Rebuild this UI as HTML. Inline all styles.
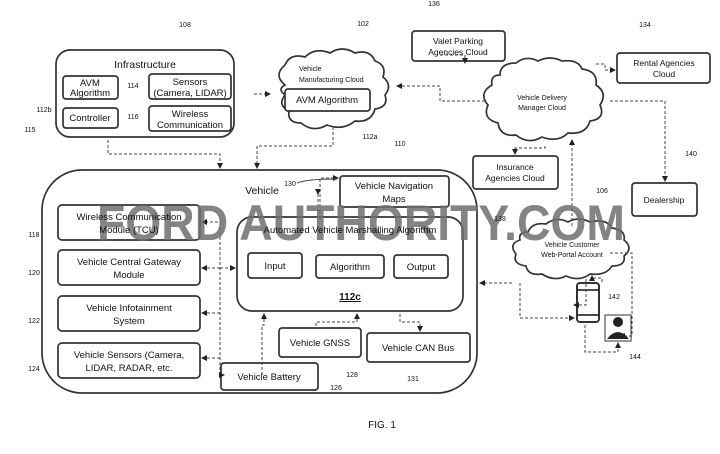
<!DOCTYPE html>
<html><head><meta charset="utf-8"><style>
html,body{margin:0;padding:0;background:#fff;}
svg{display:block;font-family:"Liberation Sans",sans-serif;}
</style></head><body>
<svg width="720" height="454" viewBox="0 0 720 454" xmlns="http://www.w3.org/2000/svg">
<defs>
<marker id="a" markerWidth="6" markerHeight="6" refX="5" refY="3" orient="auto"><path d="M0,0 L6,3 L0,6 z" fill="#222"/></marker>
</defs>
<g fill="none" stroke="#333" stroke-width="1.7">
<rect x="56" y="50" width="178" height="87" rx="14"/>
<rect x="63" y="76" width="55" height="23" rx="3"/>
<rect x="63" y="108" width="55" height="20" rx="3"/>
<rect x="149" y="74" width="82" height="25" rx="3"/>
<rect x="149" y="106" width="82" height="25" rx="3"/>
<path d="M285,85 q-12,-10 0,-20 q5,-12 20,-8 q10,-10 25,-4 q12,-8 25,0 q15,-4 20,8 q12,4 8,16 q10,8 2,18 q4,12 -10,14 q-4,14 -20,12 q-12,10 -28,4 q-14,8 -26,-2 q-14,0 -12,-12 q-12,-6 -4,-16 q-8,-6 0,-10z"/>
<rect x="285" y="89" width="85" height="22" rx="3" fill="#fff"/>
<path d="M500,75 q0,-12 16,-12 q10,-8 22,-2 q12,-6 24,0 q16,-2 20,8 q16,2 14,16 q12,8 4,20 q6,14 -10,16 q-4,14 -22,12 q-10,10 -26,4 q-14,8 -26,-2 q-16,2 -18,-12 q-16,-4 -10,-18 q-10,-12 4,-20 q-2,-10 8,-10z"/>
<path d="M528,232 q4,-10 18,-8 q10,-8 22,-2 q10,-6 22,0 q16,-4 22,6 q14,2 12,12 q10,8 0,16 q2,10 -12,10 q-6,10 -22,8 q-10,8 -24,2 q-12,6 -24,-2 q-14,2 -16,-8 q-14,-2 -10,-12 q-8,-10 4,-14 q-2,-8 8,-8z"/>
<rect x="412" y="31" width="93" height="30" rx="3"/>
<rect x="617" y="53" width="93" height="30" rx="3"/>
<rect x="473" y="156" width="85" height="33" rx="3"/>
<rect x="632" y="183" width="65" height="33" rx="3"/>
<rect x="42" y="170" width="435" height="223" rx="40"/>
<rect x="340" y="176" width="109" height="31" rx="3"/>
<rect x="58" y="205" width="142" height="35" rx="4"/>
<rect x="58" y="250" width="142" height="35" rx="4"/>
<rect x="58" y="296" width="142" height="35" rx="4"/>
<rect x="58" y="343" width="142" height="35" rx="4"/>
<rect x="237" y="217" width="226" height="94" rx="15"/>
<rect x="248" y="253" width="54" height="25" rx="3"/>
<rect x="316" y="255" width="68" height="23" rx="3"/>
<rect x="394" y="255" width="54" height="23" rx="3"/>
<rect x="279" y="328" width="82" height="29" rx="3"/>
<rect x="367" y="333" width="103" height="29" rx="3"/>
<rect x="221" y="363" width="97" height="27" rx="3"/>
<rect x="577" y="283" width="22" height="39" rx="3" stroke-width="2"/>
<line x1="577" y1="290" x2="599" y2="290"/><line x1="577" y1="315" x2="599" y2="315"/>
<rect x="605" y="315" width="26" height="26" stroke-width="1"/>
</g>
<circle cx="618" cy="322" r="5" fill="#222"/>
<path d="M607,339 q11,-14 22,0z" fill="#222"/>
<g fill="none" stroke="#444" stroke-width="1" stroke-dasharray="3,2" marker-end="url(#a)">
<path d="M254,94 H270"/>
<path d="M108,140 V154 H220 V168"/>
<path d="M333,127 V146 H257 V168"/>
<path d="M440,55 H465 V63"/>
<path d="M596,64 H605 V70 H615"/>
<path d="M485,101 H440 V86 H397"/>
<path d="M610,101 H665 V181"/>
<path d="M545,146 V148 H515 V154"/>
<path d="M572,226 V140"/>
<path d="M610,253 H632 V336 H620"/>
<path d="M586,279 V305 H574"/>
<path d="M520,283 V318 H574"/>
<path d="M602,282 V278 H592 V276"/>
<path d="M585,325 V352 H618 V343"/>
<path d="M512,283 H480"/>
<path d="M318,194 V212 H320 V178 H338" marker-start="url(#a)"/>
<path d="M220,235 V222 H202"/>
<path d="M220,268 H202"/>
<path d="M220,268 H235"/>
<path d="M220,313 H202"/>
<path d="M220,358 H202"/>
<path d="M220,222 V375 H224"/>
<path d="M262,375 V325 H264 V314"/>
<path d="M316,326 V322 H357 V314"/>
<path d="M400,314 V322 H420 V331"/>
</g>
<g fill="none" stroke="#444" stroke-width="1">
<path d="M297,183 q10,-4 40,-4"/>
</g>
<text x="97" y="240" font-size="50" font-weight="bold" fill="#6e6e6e" fill-opacity="0.85" textLength="528" lengthAdjust="spacingAndGlyphs">FORD AUTHORITY.COM</text>
<g fill="#111" font-size="9.5" text-anchor="middle">
<text x="145" y="68" font-size="10.5">Infrastructure</text>
<text x="90" y="86">AVM</text><text x="90" y="96">Algorithm</text>
<text x="90" y="121">Controller</text>
<text x="190" y="85">Sensors</text><text x="190" y="96">(Camera, LIDAR)</text>
<text x="190" y="117">Wireless</text><text x="190" y="128">Communication</text>
<text x="133" y="88" font-size="7">114</text><text x="133" y="119" font-size="7">116</text>
<text x="44" y="112" font-size="7">112b</text><text x="30" y="132" font-size="7">115</text>
<text x="185" y="27" font-size="7">108</text><text x="363" y="26" font-size="7">102</text>
<text x="370" y="139" font-size="7">112a</text>
<text x="299" y="71" font-size="7" text-anchor="start">Vehicle</text>
<text x="299" y="82" font-size="7" text-anchor="start">Manufacturing Cloud</text>
<text x="327" y="103">AVM Algorithm</text>
<text x="458" y="44" font-size="8.5">Valet Parking</text><text x="458" y="55" font-size="8.5">Agencies Cloud</text>
<text x="664" y="66" font-size="8.5">Rental Agencies</text><text x="664" y="77" font-size="8.5">Cloud</text>
<text x="434" y="6" font-size="7">136</text><text x="645" y="27" font-size="7">134</text>
<text x="542" y="100" font-size="7">Vehicle Delivery</text><text x="542" y="110" font-size="7">Manager Cloud</text>
<text x="515" y="170" font-size="8.5">Insurance</text><text x="515" y="181" font-size="8.5">Agencies Cloud</text>
<text x="664" y="203" font-size="8.5">Dealership</text>
<text x="400" y="146" font-size="7">110</text><text x="691" y="156" font-size="7">140</text>
<text x="602" y="193" font-size="7">106</text><text x="500" y="221" font-size="7">138</text>
<text x="572" y="247" font-size="7">Vehicle Customer</text><text x="572" y="257" font-size="7">Web-Portal Account</text>
<text x="614" y="299" font-size="7">142</text><text x="635" y="359" font-size="7">144</text>
<text x="262" y="194" font-size="10.5">Vehicle</text>
<text x="394" y="189">Vehicle Navigation</text><text x="394" y="202">Maps</text>
<text x="290" y="186" font-size="7">130</text>
<text x="129" y="220">Wireless Communication</text><text x="129" y="233">Module (TCU)</text>
<text x="129" y="265">Vehicle Central Gateway</text><text x="129" y="278">Module</text>
<text x="129" y="311">Vehicle Infotainment</text><text x="129" y="324">System</text>
<text x="129" y="358">Vehicle Sensors (Camera,</text><text x="129" y="371">LIDAR, RADAR, etc.</text>
<text x="34" y="237" font-size="7">118</text><text x="34" y="275" font-size="7">120</text>
<text x="34" y="323" font-size="7">122</text><text x="34" y="371" font-size="7">124</text>
<text x="350" y="233">Automated Vehicle Marshalling Algorithm</text>
<text x="275" y="269">Input</text><text x="350" y="270">Algorithm</text><text x="421" y="270">Output</text>
<text x="350" y="300" font-size="10" font-weight="bold" text-decoration="underline">112c</text>
<text x="320" y="346">Vehicle GNSS</text><text x="418" y="351">Vehicle CAN Bus</text>
<text x="269" y="380">Vehicle Battery</text>
<text x="336" y="390" font-size="7">126</text><text x="352" y="377" font-size="7">128</text><text x="413" y="381" font-size="7">131</text>
<text x="382" y="428" font-size="10">FIG. 1</text>
</g>
</svg>
</body></html>
